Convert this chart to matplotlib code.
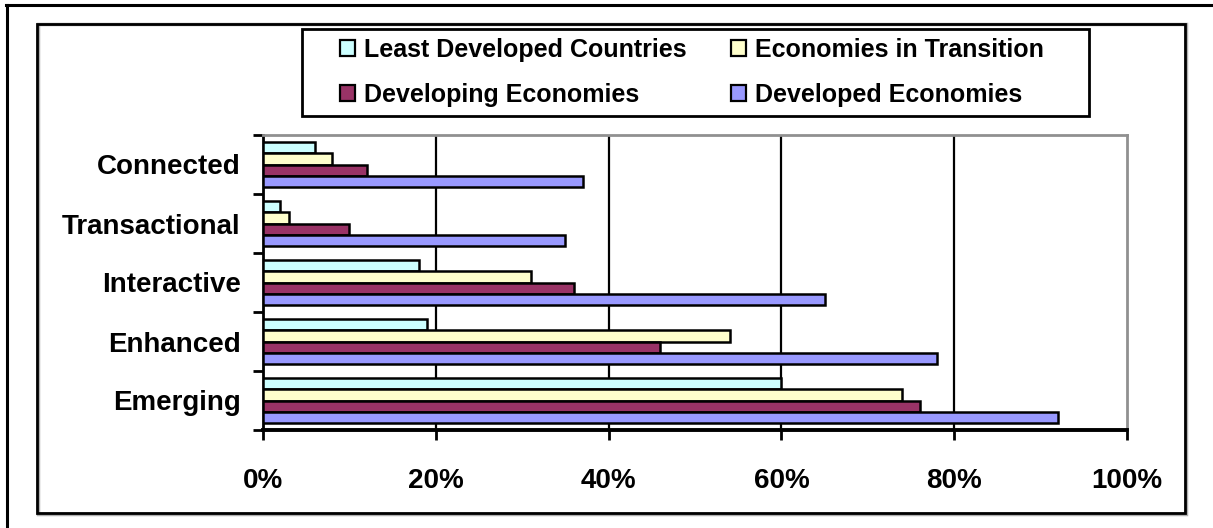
import matplotlib
matplotlib.use("Agg")
import matplotlib.pyplot as plt
from matplotlib.patches import Rectangle, Patch
from matplotlib.lines import Line2D
from matplotlib.ticker import FixedLocator, FuncFormatter
import numpy as np

# Stages of e-government, bottom to top
categories = ["Emerging", "Enhanced", "Interactive", "Transactional", "Connected"]

series_names = ["Least Developed Countries", "Economies in Transition",
                "Developing Economies", "Developed Economies"]
least_developed = [60, 19, 18, 2, 6]
transition = [74, 54, 31, 3, 8]
developing = [76, 46, 36, 10, 12]
developed = [92, 78, 65, 35, 37]

x_ticks = [0, 20, 40, 60, 80, 100]
colors = ["#CCFFFF", "#FFFFCC", "#993366", "#9999FF"]

W, H = 1213, 528
plt.rcParams["font.family"] = ["Liberation Sans", "DejaVu Sans"]
plt.rcParams["font.weight"] = "bold"

fig = plt.figure(figsize=(W / 100, H / 100), dpi=100)

# page frame and chart frame
fig.add_artist(Line2D([6 / W, 1.0], [1 - 5 / H, 1 - 5 / H], transform=fig.transFigure,
                      color="black", lw=2.2))
fig.add_artist(Line2D([7 / W, 7 / W], [0, 1 - 5 / H], transform=fig.transFigure,
                      color="black", lw=2.2))
fig.add_artist(Rectangle((38 / W, 1 - 514 / H), 1148 / W, 490 / H, transform=fig.transFigure,
                         fill=False, edgecolor="#b0b0b0", lw=2.5))
fig.add_artist(Rectangle((37 / W, 1 - 513 / H), 1148 / W, 489 / H, transform=fig.transFigure,
                         fill=False, edgecolor="black", lw=2.0))

ax = fig.add_axes([263 / W, 1 - 430 / H, (1127 - 263) / W, (430 - 135) / H])

y = np.arange(len(categories))
h = 0.19
values = [least_developed, transition, developing, developed]
offsets = [1.5 * h, 0.5 * h, -0.5 * h, -1.5 * h]
handles = []
for vals, off, col, name in zip(values, offsets, colors, series_names):
    ax.barh(y + off, vals, height=h, color=col, edgecolor="black", linewidth=1.8, zorder=3)
    handles.append(Patch(facecolor=col, edgecolor="black", linewidth=1.6, label=name))

ax.set_xlim(0, 100)
ax.set_ylim(-0.5, len(categories) - 0.5)
ax.xaxis.set_major_locator(FixedLocator(x_ticks))
ax.xaxis.set_major_formatter(FuncFormatter(lambda v, p: f"{v:.0f}%"))
ax.set_yticks(y)
ax.set_yticklabels(categories)
ax.yaxis.set_minor_locator(FixedLocator(np.arange(-0.5, len(categories), 1.0)))

for v in x_ticks[1:-1]:
    ax.axvline(v, color="black", lw=1.6, zorder=1)

ax.spines["top"].set_color("#909090")
ax.spines["right"].set_color("#909090")
ax.spines["top"].set_linewidth(2)
ax.spines["right"].set_linewidth(2)
ax.spines["left"].set_linewidth(2)
ax.spines["bottom"].set_linewidth(2.8)

ax.tick_params(axis="x", direction="out", length=7, width=2, pad=20, labelsize=20)
ax.tick_params(axis="y", which="major", length=0, pad=16, labelsize=20)
ax.tick_params(axis="y", which="minor", direction="out", length=7, width=2)
for lbl in ax.get_xticklabels() + ax.get_yticklabels():
    lbl.set_fontweight("bold")

# legend box
fig.add_artist(Rectangle((302 / W, 1 - 116 / H), 787 / W, 87 / H, transform=fig.transFigure,
                         fill=False, edgecolor="black", lw=2.0))
order = [0, 2, 1, 3]
leg = fig.legend([handles[i] for i in order], [series_names[i] for i in order],
                 ncol=2, loc="upper left",
                 bbox_to_anchor=(340 / W, 1 - 38 / H),
                 frameon=False,
                 prop={"weight": "bold", "size": 18},
                 handlelength=0.6, handleheight=0.6, handletextpad=0.35,
                 borderaxespad=0, borderpad=0, labelspacing=0.83, columnspacing=1.8)

fig.savefig("out.png", dpi=100)
